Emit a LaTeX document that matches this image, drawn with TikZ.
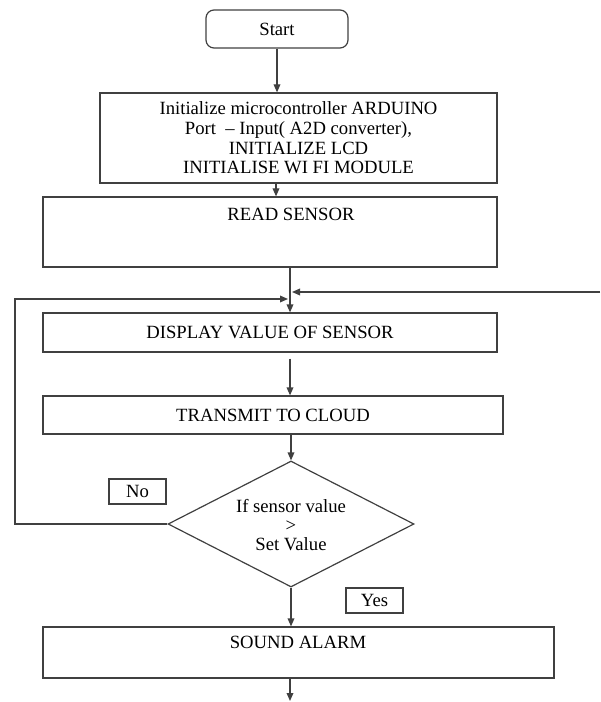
\documentclass[tikz,border=0pt]{standalone}
\usepackage{fontspec}
\setmainfont{Liberation Serif}
\usetikzlibrary{shapes.geometric,arrows.meta}
\begin{document}
\begin{tikzpicture}[x=0.75pt,y=-0.75pt,
  line/.style={draw=black!75,line width=0.9pt},
  arr/.style={line,-{Triangle[length=6pt,width=5pt]}},
  box/.style={draw=black!75,line width=0.9pt,rectangle,inner sep=0pt,align=center,
    font=\fontsize{14}{14.8}\selectfont},
  txt/.style={inner sep=0pt,align=center,font=\fontsize{14}{14.8}\selectfont},
  dia/.style={draw=black!75,line width=0.9pt,diamond,inner sep=0pt}]
\useasboundingbox (0,0) rectangle (600,702);
% nodes
\node[box,rounded corners=6pt,minimum width=106.5pt,minimum height=28.5pt] (start) at (277,29) {Start};
\node[box,minimum width=297.75pt,minimum height=67.5pt] (init) at (298.5,138)
  {Initialize microcontroller ARDUINO\\Port\ \ – Input( A2D converter),\\INITIALIZE LCD\\INITIALISE WI FI MODULE};
\node[box,minimum width=340.5pt,minimum height=52.5pt] (read) at (270,232) {};
\node[txt] (readt) at (291,214) {READ SENSOR};
\node[box,minimum width=340.5pt,minimum height=29.25pt] (display) at (270,332.5) {DISPLAY VALUE OF SENSOR};
\node[box,minimum width=345pt,minimum height=28.5pt] (transmit) at (273,415) {TRANSMIT TO CLOUD};
\node[dia,minimum width=184.5pt,minimum height=94.5pt] (dec) at (291,524) {};
\node[txt,font=\fontsize{14}{14.3}\selectfont] (dect) at (291,525) {If sensor value\\>\\Set Value};
\node[box,minimum width=42.75pt,minimum height=18.75pt] (no) at (137.5,491.5) {No};
\node[box,minimum width=42.75pt,minimum height=18.75pt] (yes) at (374.5,600.5) {Yes};
\node[box,minimum width=383.25pt,minimum height=38.25pt] (sound) at (298.5,652.5) {};
\node[txt] (soundt) at (298,642) {SOUND ALARM};
% helper coordinates
\coordinate (ax) at (290,0);
\coordinate (ix) at (276,0);
\coordinate (lx) at (15,0);
\coordinate (rin) at (600,292);
\coordinate (rend) at (292,292);
\coordinate (lend) at (288,299);
\coordinate (endc) at (290,701);
% connectors
\draw[arr] (start.south) -- (start.south |- init.north);
\draw[arr] (init.south -| ix) -- (read.north -| ix);
\draw[arr] (read.south -| ax) -- (display.north -| ax);
\draw[arr] (rin) -- (rend);
\draw[arr] (dec.west) -- (dec.west -| lx) |- (lend);
\draw[arr,shorten <=4.5pt] (display.south -| ax) -- (transmit.north -| ax);
\draw[arr] (transmit.south -| dec.north) -- (dec.north);
\draw[arr] (dec.south) -- (sound.north -| dec.south);
\draw[arr] (sound.south -| ax) -- (endc);
\end{tikzpicture}
\end{document}
